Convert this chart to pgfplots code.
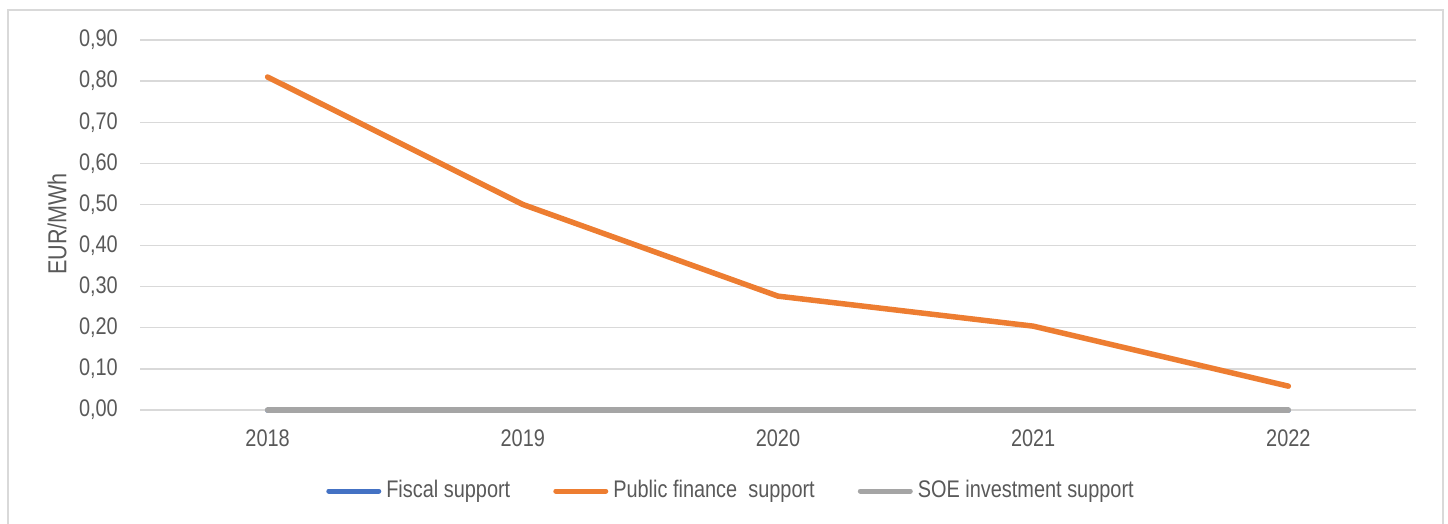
\documentclass[border=0pt]{standalone}
\usepackage{pgfplots}
\pgfplotsset{compat=1.18}
\usepackage{fontspec}
\setmainfont{Liberation Sans}[FakeStretch=0.83]
\definecolor{cblue}{HTML}{4472C4}
\definecolor{corange}{HTML}{ED7D31}
\definecolor{cgray}{HTML}{A5A5A5}
\definecolor{ctext}{HTML}{595959}
\definecolor{cgrid}{HTML}{D9D9D9}
\begin{document}
\fontsize{24pt}{28pt}\selectfont
\begin{tikzpicture}
\useasboundingbox (0,0) rectangle (1448pt,523pt);
\draw[cgrid, line width=1.5pt] (8pt,-20pt) -- (8pt,513pt) -- (1443pt,513pt) -- (1443pt,-20pt);
\node[rotate=90, text=ctext, font=\fontsize{26pt}{30pt}\selectfont, inner sep=0pt] at (57pt,299pt) {EUR/MWh};
\begin{axis}[
  at={(140pt,113pt)}, anchor=south west,
  scale only axis, width=1276pt, height=370pt,
  xmin=-0.5, xmax=4.5, ymin=0, ymax=0.9,
  clip=false,
  xtick={0,1,2,3,4}, xticklabels={2018,2019,2020,2021,2022},
  ytick={0,0.1,0.2,0.3,0.4,0.5,0.6,0.7,0.8,0.9},
  /pgf/number format/fixed, /pgf/number format/fixed zerofill,
  /pgf/number format/precision=2, /pgf/number format/use comma,
  /pgf/number format/assume math mode=true,
  ticklabel style={text=ctext, font=\fontsize{24pt}{28pt}\selectfont},
  yticklabel style={xshift=-14pt},
  xticklabel style={yshift=-12pt},
  major tick length=0pt,
  axis line style={draw=none},
  ymajorgrids, grid style={cgrid, line width=1.3pt},
  legend columns=3,
  legend style={at={(axis description cs:0.4624,-0.219)}, anchor=center, draw=none, fill=none,
    font=\fontsize{24pt}{28pt}\selectfont, text=ctext,
    nodes={inner sep=0pt},
    /tikz/every odd column/.append style={column sep=5pt},
    /tikz/every even column/.append style={column sep=43pt}},
  legend image code/.code={\draw[#1, line width=5pt, line cap=round] (2.5pt,0pt) -- (52.5pt,0pt);},
  legend cell align=left,
]
\addplot[cblue, line width=5pt, line cap=round] coordinates {(0,0) (1,0) (2,0) (3,0) (4,0)};
\addlegendentry{Fiscal support}
\addplot[corange, line width=5.5pt, line cap=round, line join=round] coordinates {(0,0.81) (1,0.50) (2,0.277) (3,0.204) (4,0.058)};
\addlegendentry{Public finance~ support}
\addplot[cgray, line width=5.5pt, line cap=round] coordinates {(0,0) (1,0) (2,0) (3,0) (4,0)};
\addlegendentry{SOE investment support}
\end{axis}
\end{tikzpicture}
\end{document}
